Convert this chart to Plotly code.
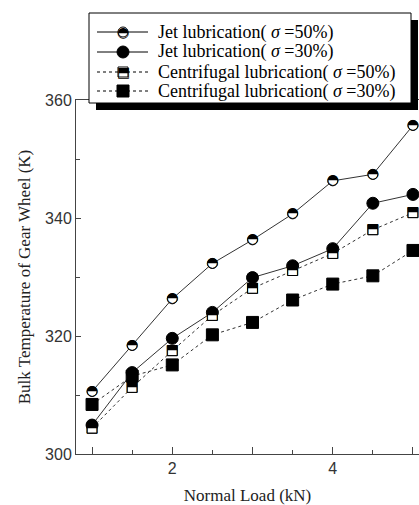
import plotly.graph_objects as go

# Data
load_kn = [1, 1.5, 2, 2.5, 3, 3.5, 4, 4.5, 5]
jet_50 = [310.6, 318.4, 326.3, 332.3, 336.3, 340.7, 346.3, 347.4, 355.7]
jet_30 = [304.9, 313.8, 319.6, 324.0, 329.9, 331.9, 334.8, 342.5, 344.0]
cen_50 = [304.4, 311.3, 317.5, 323.5, 328.1, 331.1, 334.0, 338.0, 340.9]
cen_30 = [308.4, 313.2, 315.1, 320.2, 322.3, 326.1, 328.8, 330.2, 334.5]

names = [
    "Jet lubrication( <i>σ</i> =50%)",
    "Jet lubrication( <i>σ</i> =30%)",
    "Centrifugal lubrication( <i>σ</i> =50%)",
    "Centrifugal lubrication( <i>σ</i> =30%)",
]
x_tickvals = [1, 2, 3, 4, 5]
x_ticktext = ["", "2", "", "4", ""]
y_tickvals = [300, 320, 340, 360]

LINE = "#333333"
AX = "#444444"
W, H = 419, 505
L, R, T, B = 76, 0, 100, 51
pw, ph = W - L - R, H - T - B

HALF_CIRCLE = "◓"
HALF_SQUARE = "⬒"
GLYPH_FONT = dict(family="DejaVu Sans", size=14, color="black")

series = [
    dict(y=jet_50, dash="solid", sym="circle", fill="white", glyph=HALF_CIRCLE, size=10),
    dict(y=jet_30, dash="solid", sym="circle", fill="black", glyph=None, size=12),
    dict(y=cen_50, dash="dot", sym="square", fill="white", glyph=HALF_SQUARE, size=10),
    dict(y=cen_30, dash="dot", sym="square", fill="black", glyph=None, size=12),
]

fig = go.Figure()
for s, nm in zip(series, names):
    fig.add_trace(go.Scatter(
        x=load_kn, y=s["y"], name=nm, mode="lines+markers", showlegend=False,
        line=dict(color=LINE, width=1, dash=s["dash"]),
        marker=dict(symbol=s["sym"], size=s["size"], color=s["fill"],
                    line=dict(color="black", width=1)),
    ))
    if s["glyph"]:
        fig.add_trace(go.Scatter(
            x=load_kn, y=s["y"], mode="text", text=[s["glyph"]] * len(load_kn),
            showlegend=False, textposition="middle center", textfont=GLYPH_FONT,
            hoverinfo="skip",
        ))


def px_x(p):
    return (p - L) / pw


def px_y(p):
    return (H - B - p) / ph


# ---- hand-drawn legend box (with drop shadow), as in the reference ----
box_l, box_t, box_r, box_b = 89, 13, 411, 103
shadow = 7
shapes = [
    dict(type="rect", xref="paper", yref="paper",
         x0=px_x(box_l + shadow), x1=px_x(box_r + shadow),
         y0=px_y(box_b + shadow), y1=px_y(box_t + shadow),
         fillcolor="black", line=dict(width=0), layer="above"),
    dict(type="rect", xref="paper", yref="paper",
         x0=px_x(box_l), x1=px_x(box_r), y0=px_y(box_b), y1=px_y(box_t),
         fillcolor="white", line=dict(color="black", width=1), layer="above"),
]
annotations = []
row_y = [32, 52, 72, 91]
line_x0, line_x1, mark_x, text_x = 97, 148, 123, 156
for s, nm, ry in zip(series, names, row_y):
    shapes.append(dict(type="line", xref="paper", yref="paper",
                       x0=px_x(line_x0), x1=px_x(line_x1), y0=px_y(ry), y1=px_y(ry),
                       line=dict(color="black", width=1, dash=s["dash"]), layer="above"))
    half = s["size"] / 2
    shapes.append(dict(type="circle" if s["sym"] == "circle" else "rect",
                       xref="paper", yref="paper", xsizemode="pixel", ysizemode="pixel",
                       xanchor=px_x(mark_x), yanchor=px_y(ry),
                       x0=-half, x1=half, y0=-half, y1=half,
                       fillcolor=s["fill"], line=dict(color="black", width=1), layer="above"))
    if s["glyph"]:
        annotations.append(dict(xref="paper", yref="paper", x=px_x(mark_x), y=px_y(ry),
                                text=s["glyph"], showarrow=False, font=GLYPH_FONT,
                                xanchor="center", yanchor="middle"))
    annotations.append(dict(xref="paper", yref="paper", x=px_x(text_x), y=px_y(ry),
                            text=nm, showarrow=False, xanchor="left", yanchor="middle",
                            font=dict(family="Liberation Serif", size=18, color="black")))

fig.update_layout(
    width=W, height=H,
    margin=dict(l=L, r=R, t=T, b=B, pad=0),
    paper_bgcolor="white", plot_bgcolor="white",
    showlegend=False,
    shapes=shapes, annotations=annotations,
    font=dict(family="Liberation Sans", color="#333333"),
)

fig.update_xaxes(
    range=[0.8, 5.075], showgrid=False, zeroline=False,
    showline=True, linecolor=AX, linewidth=1, mirror=True,
    tickmode="array", tickvals=x_tickvals, ticktext=x_ticktext,
    ticks="inside", ticklen=7, tickcolor=AX,
    minor=dict(dtick=0.5, ticks="inside", ticklen=4, tickcolor=AX),
    tickfont=dict(family="Liberation Sans", size=16, color="#333333"),
    title=dict(text="Normal Load (kN)", font=dict(family="Liberation Serif", size=17, color="#222222"), standoff=17),
)
fig.update_yaxes(
    range=[300, 360], showgrid=False, zeroline=False,
    showline=True, linecolor=AX, linewidth=1,
    tickmode="array", tickvals=y_tickvals,
    ticks="inside", ticklen=5, tickcolor=AX,
    minor=dict(dtick=10, ticks="inside", ticklen=4, tickcolor=AX),
    tickfont=dict(family="Liberation Sans", size=16, color="#333333"),
    title=dict(text="Bulk Temperature of Gear Wheel (K)", font=dict(family="Liberation Serif", size=17, color="#222222"), standoff=10),
)

fig.write_html(
    "out.html",
    config={"displayModeBar": False},
    post_script="document.body.style.margin='0px';document.body.style.overflow='hidden';",
)
